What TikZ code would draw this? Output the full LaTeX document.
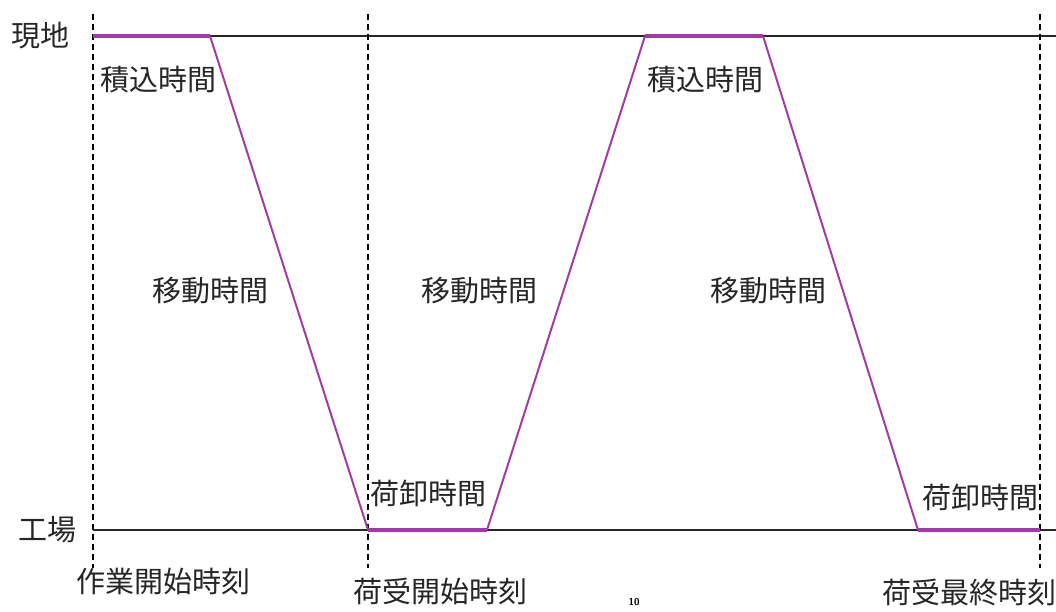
\documentclass[tikz,border=0pt]{standalone}
\usepackage{fontspec}
\newfontfamily\jp{Noto Sans CJK JP}
\definecolor{route}{RGB}{160,60,165}
\begin{document}
\begin{tikzpicture}[x=1pt,y=-1pt,
  lbl/.style={font=\jp\fontsize{29}{31}\selectfont, inner sep=0pt, text=black!85},
  axis/.style={draw=black!85, line width=1.3pt},
  guide/.style={draw=black, line width=1.2pt, dash pattern=on 6pt off 4pt},
  stay/.style={draw=route, line width=4pt},
  move/.style={draw=route, line width=2pt}]
\useasboundingbox (0,0) rectangle (1056,612);
% coordinates
\coordinate (t0) at (93,36);
\coordinate (tE) at (1056,36);
\coordinate (b0) at (93,530);
\coordinate (bE) at (1056,530);
\coordinate (p1) at (210,36);
\coordinate (p2) at (368,530);
\coordinate (p3) at (487,530);
\coordinate (p4) at (645,36);
\coordinate (p5) at (763,36);
\coordinate (p6) at (918,530);
\coordinate (p7) at (1040,530);
\coordinate (d1a) at (93,14);  \coordinate (d1b) at (93,568);
\coordinate (d2a) at (368,14); \coordinate (d2b) at (368,568);
\coordinate (d3a) at (1040,14); \coordinate (d3b) at (1040,568);
% axes
\draw[axis] (t0) -- (tE);
\draw[axis] (b0) -- (bE);
% guides
\draw[guide] (d1a) -- (d1b);
\draw[guide] (d2a) -- (d2b);
\draw[guide] (d3a) -- (d3b);
% route
\draw[stay] (t0) -- (p1);
\draw[move] (p1) -- (p2);
\draw[stay] (p2) -- (p3);
\draw[move] (p3) -- (p4);
\draw[stay] (p4) -- (p5);
\draw[move] (p5) -- (p6);
\draw[stay] (p6) -- (p7);
% labels
\node[lbl] (genchi) at (40,36) {現地};
\node[lbl] (kojo) at (47,530) {工場};
\node[lbl] (tsumi1) at (158,80) {積込時間};
\node[lbl] (tsumi2) at (705,80) {積込時間};
\node[lbl] (ido1) at (210,291) {移動時間};
\node[lbl] (ido2) at (479,291) {移動時間};
\node[lbl] (ido3) at (768,291) {移動時間};
\node[lbl] (oroshi1) at (428,493) {荷卸時間};
\node[lbl] (oroshi2) at (980,497) {荷卸時間};
\node[lbl] (start) at (163,582) {作業開始時刻};
\node[lbl] (ukestart) at (440,591) {荷受開始時刻};
\node[lbl, anchor=west] (ukeend) at (882,592) {荷受最終時刻};
\node[font=\sffamily\bfseries\fontsize{10}{11}\selectfont, inner sep=0pt] (page) at (634,602) {10};
\end{tikzpicture}
\end{document}
